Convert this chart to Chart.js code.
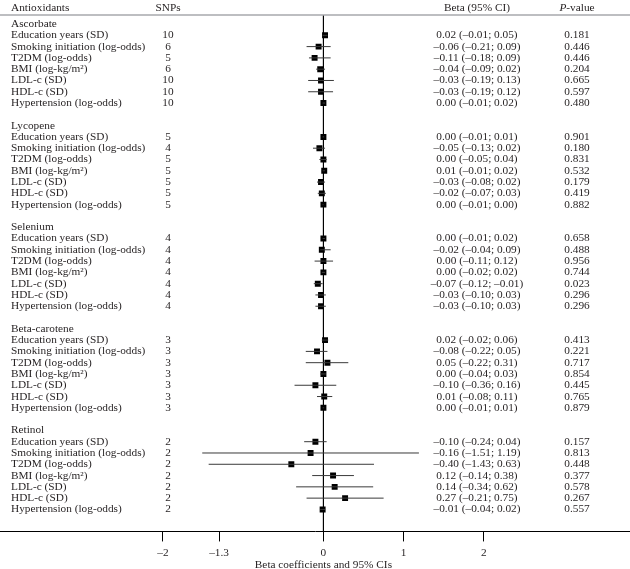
<!DOCTYPE html>
<html>
<head>
<meta charset="utf-8">
<script src="https://cdn.jsdelivr.net/npm/chart.js@4"></script>
<style>
html,body{margin:0;padding:0;background:#fff;}
#c{display:block;}
</style>
</head>
<body>
<canvas id="c" width="630" height="569"></canvas>
<script>
const groups = ['Ascorbate','Lycopene','Selenium','Beta-carotene','Retinol'];
const outcomes = ['Education years (SD)','Smoking initiation (log-odds)','T2DM (log-odds)','BMI (log-kg/m\u00B2)','LDL-c (SD)','HDL-c (SD)','Hypertension (log-odds)'];
const snps = [[10,6,5,6,10,10,10],[5,4,5,5,5,5,5],[4,4,4,4,4,4,4],[3,3,3,3,3,3,3],[2,2,2,2,2,2,2]];
const beta = [[0.02,-0.06,-0.11,-0.04,-0.03,-0.03,0.00],[0.00,-0.05,0.00,0.01,-0.03,-0.02,0.00],[0.00,-0.02,0.00,0.00,-0.07,-0.03,-0.03],[0.02,-0.08,0.05,0.00,-0.10,0.01,0.00],[-0.10,-0.16,-0.40,0.12,0.14,0.27,-0.01]];
const lower = [[-0.01,-0.21,-0.18,-0.09,-0.19,-0.19,-0.01],[-0.01,-0.13,-0.05,-0.01,-0.08,-0.07,-0.01],[-0.01,-0.04,-0.11,-0.02,-0.12,-0.10,-0.10],[-0.02,-0.22,-0.22,-0.04,-0.36,-0.08,-0.01],[-0.24,-1.51,-1.43,-0.14,-0.34,-0.21,-0.04]];
const upper = [[0.05,0.09,0.09,0.02,0.13,0.12,0.02],[0.01,0.02,0.04,0.02,0.02,0.03,0.00],[0.02,0.09,0.12,0.02,-0.01,0.03,0.03],[0.06,0.05,0.31,0.03,0.16,0.11,0.01],[0.04,1.19,0.63,0.38,0.62,0.75,0.02]];
const pvals = [['0.181','0.446','0.446','0.204','0.665','0.597','0.480'],['0.901','0.180','0.831','0.532','0.179','0.419','0.882'],['0.658','0.488','0.956','0.744','0.023','0.296','0.296'],['0.413','0.221','0.717','0.854','0.445','0.765','0.879'],['0.157','0.813','0.448','0.377','0.578','0.267','0.557']];
const xTicks = [-2,-1.3,0,1,2];
const headers = ['Antioxidants','SNPs','Beta (95% CI)','P-value'];
const axisTitle = 'Beta coefficients and 95% CIs';

const FONT = 'Liberation Serif';
const FS = 11.3;
const TXT = '#231f20';
const ROWS_PER_GROUP = 9;

function fmt(v){ return (v < 0 ? '\u2013' : '') + Math.abs(v).toFixed(2); }

const ciData = [], ptData = [], rows = [];
groups.forEach((g, gi) => {
  const base = gi * ROWS_PER_GROUP;
  rows.push({row: base, label: g});
  outcomes.forEach((o, oi) => {
    const r = base + 1 + oi;
    ciData.push({x: lower[gi][oi], y: r}, {x: upper[gi][oi], y: r}, {x: null, y: null});
    ptData.push({x: beta[gi][oi], y: r});
    rows.push({row: r, label: o, snp: String(snps[gi][oi]),
      b: fmt(beta[gi][oi]) + ' (' + fmt(lower[gi][oi]) + '; ' + fmt(upper[gi][oi]) + ')',
      p: pvals[gi][oi]});
  });
});
const Y_MIN = -0.8, Y_MAX = 44.95;

const tablePlugin = {
  id: 'table',
  afterDraw(chart) {
    const ctx = chart.ctx, ys = chart.scales.y, xs = chart.scales.x, ca = chart.chartArea;
    ctx.save();
    ctx.strokeStyle = '#a7a9ac';
    ctx.lineWidth = 1.5;
    ctx.beginPath(); ctx.moveTo(0, ca.top); ctx.lineTo(chart.width, ca.top); ctx.stroke();
    ctx.fillStyle = TXT;
    const norm = FS + 'px "' + FONT + '"', ital = 'italic ' + FS + 'px "' + FONT + '"';
    ctx.font = norm;
    ctx.textBaseline = 'middle';
    const hy = ca.top - 7;
    ctx.textAlign = 'left'; ctx.fillText(headers[0], 11, hy);
    ctx.textAlign = 'center'; ctx.fillText(headers[1], 168, hy);
    ctx.fillText(headers[2], 477, hy);
    ctx.font = ital; const pw = ctx.measureText('P').width; ctx.font = norm;
    const rest = headers[3].slice(1);
    const rw = ctx.measureText(rest).width;
    const sx = 577 - (pw + rw) / 2;
    ctx.textAlign = 'left';
    ctx.font = ital; ctx.fillText('P', sx, hy);
    ctx.font = norm; ctx.fillText(rest, sx + pw, hy);
    rows.forEach(r => {
      const y = ys.getPixelForValue(r.row);
      ctx.textAlign = 'left'; ctx.fillText(r.label, 11, y);
      if (r.snp !== undefined) {
        ctx.textAlign = 'center';
        ctx.fillText(r.snp, 168, y);
        ctx.fillText(r.b, 477, y);
        ctx.fillText(r.p, 577, y);
      }
    });
    ctx.textAlign = 'center';
    ctx.fillText(axisTitle, xs.getPixelForValue(0), 565);
    ctx.restore();
  }
};

new Chart(document.getElementById('c'), {
  type: 'scatter',
  data: {
    datasets: [
      {data: ciData, showLine: true, spanGaps: false, borderColor: '#3a3a3a', borderWidth: 1, pointRadius: 0},
      {data: [{x: 0, y: Y_MIN}, {x: 0, y: Y_MAX}], showLine: true, borderColor: '#000', borderWidth: 1.2, pointRadius: 0},
      {data: ptData, pointStyle: 'rect', pointRadius: 4.2, backgroundColor: '#000', borderColor: '#000', borderWidth: 0}
    ]
  },
  options: {
    responsive: false,
    animation: false,
    devicePixelRatio: 1,
    layout: {autoPadding: false, padding: {top: 15, left: 0, right: 0, bottom: 4}},
    plugins: {legend: {display: false}, tooltip: {enabled: false}},
    scales: {
      x: {
        type: 'linear', min: -4.03, max: 3.82,
        afterBuildTicks: s => { s.ticks = xTicks.map(v => ({value: v})); },
        grid: {display: true, drawOnChartArea: false, drawTicks: true, tickLength: 10, color: '#000', lineWidth: 1},
        border: {display: true, color: '#000', width: 1},
        ticks: {color: TXT, font: {family: FONT, size: FS}, padding: 5, maxRotation: 0, autoSkip: false,
          callback: v => (v < 0 ? '\u2013' + Math.abs(v) : String(v))}
      },
      y: {type: 'linear', reverse: true, min: Y_MIN, max: Y_MAX, display: false}
    }
  },
  plugins: [tablePlugin]
});
</script>
</body>
</html>
